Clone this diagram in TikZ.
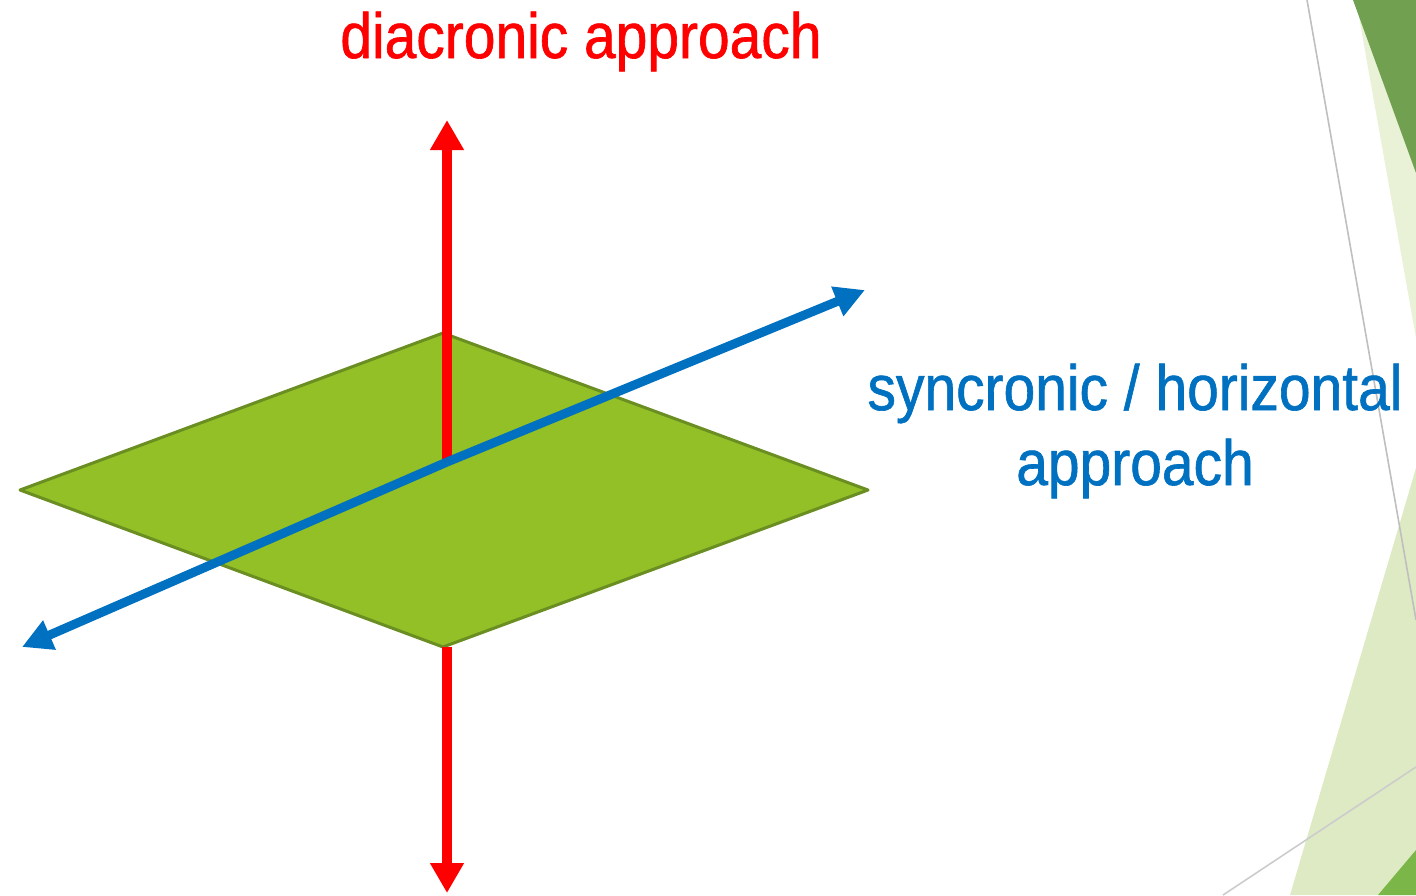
\documentclass[tikz,border=0pt]{standalone}
\usepackage{fontspec}
\usepackage{xcolor}
\usepackage{tikz}
\usetikzlibrary{arrows.meta}
\newfontfamily\lblfont{Liberation Sans}[FakeStretch=0.89,FakeBold=1]
\definecolor{planefill}{HTML}{92C026}
\definecolor{planeedge}{HTML}{6A8E22}
\definecolor{diared}{HTML}{FF0000}
\definecolor{synblue}{HTML}{0070C0}
\definecolor{facetdark}{HTML}{70A050}
\definecolor{facetpale}{HTML}{E9F1D6}
\definecolor{facetlight}{HTML}{DDEAC3}
\definecolor{facetmid}{HTML}{7AB648}

\begin{document}
\begin{tikzpicture}[
  x=0.5pt, y=-0.5pt,
  lbl/.style={font=\lblfont\fontsize{32}{37.5}\selectfont, inner sep=0pt, anchor=base},
  plane/.style={fill=planefill, draw=planeedge, line width=1.5pt, line join=round},
  vaxis/.style={draw=diared, line width=5pt, -{Triangle[length=15pt,width=16pt]}},
  haxis/.style={draw=synblue, line width=4.5pt, -{Triangle[length=15pt,width=15pt]}},
  facetline/.style={draw=black!25, line width=0.8pt},
]
\useasboundingbox (0,0) rectangle (1416,895);

% slide decoration on the right
\fill[facetpale] (1356,0) -- (1416,0) -- (1416,338) -- cycle;
\fill[facetdark] (1353,0) -- (1416,0) -- (1416,173) -- cycle;
\fill[facetlight] (1416,468) -- (1416,895) -- (1290,895) -- cycle;
\fill[facetmid] (1378,895) -- (1416,850) -- (1416,895) -- cycle;
\draw[facetline] (1307,0) -- (1416,620);
\draw[facetline, draw=black!20] (1223,895) -- (1416,767);

% the plane
\coordinate (west) at (20,490);
\coordinate (north) at (443,333);
\coordinate (east) at (868,490);
\coordinate (south) at (443,647);
\coordinate (origin) at (447,462);
\coordinate (uptip) at (447,120);
\coordinate (downtip) at (447,893);
\coordinate (fwdtip) at (865,290);
\coordinate (backtip) at (22,647);
\path[plane] (west) -- (north) -- (east) -- (south) -- cycle;

% axes
\draw[vaxis] (origin) -- (uptip);
\draw[vaxis] (origin |- south) -- (downtip);
\draw[haxis] (origin) -- (fwdtip);
\draw[haxis] (origin) -- (backtip);

% labels
\node[lbl, text=diared] (dia) at (581,58) {diacronic approach};
\node[lbl, text=synblue, align=center] (syn) at (1135,485) {syncronic / horizontal\\approach};
\end{tikzpicture}
\end{document}
